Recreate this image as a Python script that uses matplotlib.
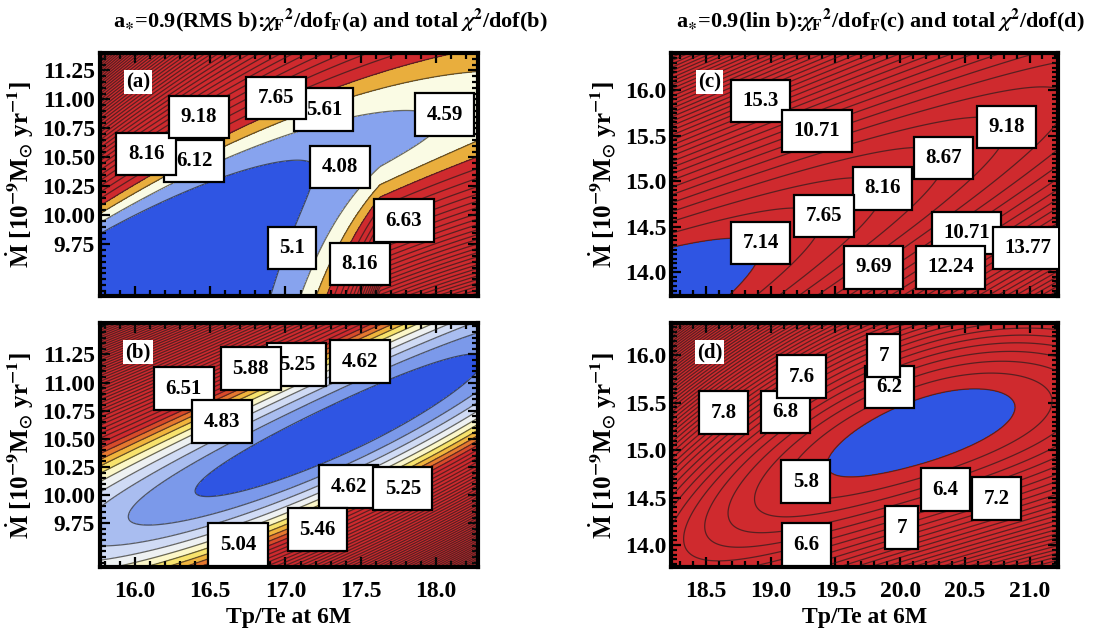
import numpy as np
import matplotlib.pyplot as plt
from matplotlib.ticker import MultipleLocator

plt.rcParams['font.family'] = ['Liberation Serif', 'DejaVu Serif']
plt.rcParams['font.weight'] = 'bold'
plt.rcParams['mathtext.fontset'] = 'stix'

# axis ranges
x_left = (15.767, 18.28)
x_right = (18.23, 21.22)
y_a = (9.305, 11.40)
y_b = (9.36, 11.53)
y_c = (13.74, 16.41)
y_d = (13.77, 16.34)

yt_left = [9.75, 10.00, 10.25, 10.50, 10.75, 11.00, 11.25]
yt_right = [14.0, 14.5, 15.0, 15.5, 16.0]
xt_left = [16.0, 16.5, 17.0, 17.5, 18.0]
xt_right = [18.5, 19.0, 19.5, 20.0, 20.5, 21.0]

# chi2 valley read from the contours of each panel
# centre line: c0 + c1*t + c2*t^2 (t = x - left edge), floor along the valley,
# width above (wu) and below (wd) the centre line
valley_a = dict(cen=(9.477, 0.769, -0.0821), fmin=3.2, xm=15.767, slope=0.617, al=0.0, ar=0.0,
                wu=(0.39, 0.08), wd=(0.415, 2.3, 17.628))
valley_b = dict(cen=(9.715, 0.481, 0.040), fmin=4.42, xm=17.428, slope=0.0, al=0.189, ar=0.25,
                wu=(0.56, 0.0), wd=(0.53, 0.0, 0.0))
valley_c = dict(cen=(13.755, 0.698, 0.0), fmin=6.405, xm=18.23, slope=1.07, al=0.0, ar=0.0,
                wu=(0.604, 0.0), wd=(0.637, 0.0, 0.0))
valley_d = dict(cen=(13.985, 0.849, -0.1116), fmin=5.6, xm=20.198, slope=0.0, al=0.343, ar=0.42,
                wu=(0.758, 0.0), wd=(0.789, 0.0, 0.0))

# contour steps and colour band edges
step_a, step_b, step_c, step_d = 0.51, 0.21, 0.51, 0.2
bands_a = [4.08, 4.59, 5.10, 5.61]
cols_a = ['#2f55e3', '#87a3ee', '#fafbe4', '#e9ae3d', '#cf2a2e']
bands_b = [4.62, 4.83, 5.04, 5.25, 5.46, 5.67, 5.88, 6.09, 6.30, 6.51]
cols_b = ['#2f55e3', '#7b99ea', '#a9bdf0', '#d0dbf5', '#eef1f2', '#fcf7c8',
          '#f8e36c', '#f0b43c', '#e5782f', '#d84a2a', '#cf2a2e']
bands_c = [7.14]
cols_c = ['#2f55e3', '#cf2a2e']
bands_d = [5.8]
cols_d = ['#2f55e3', '#cf2a2e']

# contour labels as they sit in the picture
lab_a = ['6.12', '8.16', '9.18', '5.61', '7.65', '4.08', '5.1', '6.63', '8.16', '4.59']
lab_a_x = [16.392, 16.073, 16.425, 17.255, 16.936, 17.362, 17.043, 17.787, 17.495, 18.059]
lab_a_y = [10.469, 10.529, 10.848, 10.909, 11.012, 10.417, 9.719, 9.952, 9.581, 10.866]
lab_b = ['6.51', '4.83', '5.25', '5.88', '4.62', '4.62', '5.25', '5.46', '5.04']
lab_b_x = [16.325, 16.578, 17.076, 16.770, 17.495, 17.421, 17.780, 17.215, 16.684]
lab_b_y = [10.944, 10.652, 11.157, 11.122, 11.184, 10.075, 10.057, 9.693, 9.560]
lab_c = ['15.3', '10.71', '8.67', '9.18', '8.16', '7.65', '7.14', '10.71', '9.69', '12.24', '13.77']
lab_c_x = [18.924, 19.357, 20.336, 20.823, 19.866, 19.411, 18.924, 20.514, 19.796, 20.390, 20.985]
lab_c_y = [15.883, 15.553, 15.256, 15.597, 14.926, 14.619, 14.322, 14.432, 14.058, 14.058, 14.267]
lab_d = ['6.2', '7', '6.8', '7.6', '7.8', '5.8', '6.4', '7', '6.6', '7.2']
lab_d_x = [19.920, 19.874, 19.117, 19.241, 18.639, 19.272, 20.352, 20.012, 19.279, 20.745]
lab_d_y = [15.666, 15.993, 15.403, 15.772, 15.393, 14.666, 14.582, 14.182, 14.003, 14.487]


def chi_surface(X, Y, x0, p):
    t = X - x0
    yc = p['cen'][0] + p['cen'][1] * t + p['cen'][2] * t ** 2
    dx = X - p['xm']
    floor = p['fmin'] + p['slope'] * dx + np.where(dx < 0, p['al'], p['ar']) * dx ** 2
    v = Y - yc
    wu = p['wu'][0] + p['wu'][1] * t
    wd = p['wd'][0] * np.exp(p['wd'][1] * np.clip(p['wd'][2] - X, 0, None))
    w = np.where(v > 0, wu, wd)
    return floor + (v / w) ** 2


def panel(rect, xr, yr, p, step, bands, cols, labs, lx, ly, tag, yticks, xticks, xlab):
    ax = fig.add_axes(rect)
    x = np.linspace(xr[0], xr[1], 400)
    y = np.linspace(yr[0], yr[1], 400)
    X, Y = np.meshgrid(x, y)
    Z = chi_surface(X, Y, xr[0], p)
    ax.contourf(X, Y, Z, levels=[-1] + bands + [1e4], colors=cols)
    lev = np.arange(round(bands[0] / step), np.floor(Z.max() / step) + 1) * step
    ax.contour(X, Y, Z, levels=lev, colors='#1a1a1a', linewidths=0.9, alpha=0.65)
    for s, xx, yy in zip(labs, lx, ly):
        ax.text(xx, yy, s, ha='center', va='center', fontsize=15, fontweight='bold',
                bbox=dict(boxstyle='square,pad=0.55', fc='white', ec='black', lw=1.6),
                clip_on=True, zorder=5)
    ax.text(0.1, 0.88, tag, transform=ax.transAxes, ha='center', va='center',
            fontsize=15, fontweight='bold', zorder=6,
            bbox=dict(boxstyle='square,pad=0.1', fc='white', ec='none'))
    ax.set_xlim(xr)
    ax.set_ylim(yr)
    ax.set_yticks(yticks)
    ax.set_xticks(xticks)
    ax.yaxis.set_minor_locator(MultipleLocator(0.05))
    ax.xaxis.set_minor_locator(MultipleLocator(0.1))
    ax.tick_params(which='both', direction='in', top=True, right=True, width=1.6,
                   labelsize=17)
    ax.tick_params(axis='x', pad=10)
    ax.tick_params(which='major', length=7)
    ax.tick_params(which='minor', length=4)
    for sp in ax.spines.values():
        sp.set_linewidth(3)
    ax.set_ylabel(r'$\dot{\mathbf{M}}$ [10$^{\mathbf{-9}}$M$_{\odot}$ yr$^{\mathbf{-1}}$]',
                  fontsize=18, fontweight='bold', labelpad=5)
    if xlab:
        ax.set_xlabel('Tp/Te at 6M', fontsize=17, fontweight='bold', labelpad=4)
    else:
        ax.set_xticklabels([])
    for lbl in ax.get_xticklabels() + ax.get_yticklabels():
        lbl.set_fontweight('bold')
    return ax


fig = plt.figure(figsize=(11.04, 6.36), dpi=100)
W, H = 1104.0, 636.0
L1, R1 = 100 / W, 378 / W
L2, R2 = 671 / W, 387 / W
top_b, top_h = 1 - 296 / H, 243 / H
bot_b, bot_h = 1 - 567 / H, 244 / H

panel([L1, top_b, R1, top_h], x_left, y_a, valley_a, step_a, bands_a, cols_a,
      lab_a, lab_a_x, lab_a_y, '(a)', yt_left, xt_left, False)
panel([L1, bot_b, R1, bot_h], x_left, y_b, valley_b, step_b, bands_b, cols_b,
      lab_b, lab_b_x, lab_b_y, '(b)', yt_left, xt_left, True)
panel([L2, top_b, R2, top_h], x_right, y_c, valley_c, step_c, bands_c, cols_c,
      lab_c, lab_c_x, lab_c_y, '(c)', yt_right, xt_right, False)
panel([L2, bot_b, R2, bot_h], x_right, y_d, valley_d, step_d, bands_d, cols_d,
      lab_d, lab_d_x, lab_d_y, '(d)', yt_right, xt_right, True)

fig.text(330 / W, 1 - 20 / H,
         r'a$_{\ast}$=0.9(RMS b):$\chi_{\mathbf{F}}{}^{\mathbf{2}}$/dof$_{\mathbf{F}}$(a) and total $\chi^{\mathbf{2}}$/dof(b)',
         ha='center', va='center', fontsize=16, fontweight='bold')
fig.text(880 / W, 1 - 20 / H,
         r'a$_{\ast}$=0.9(lin b):$\chi_{\mathbf{F}}{}^{\mathbf{2}}$/dof$_{\mathbf{F}}$(c) and total $\chi^{\mathbf{2}}$/dof(d)',
         ha='center', va='center', fontsize=16, fontweight='bold')

fig.savefig('out.png', dpi=100)
